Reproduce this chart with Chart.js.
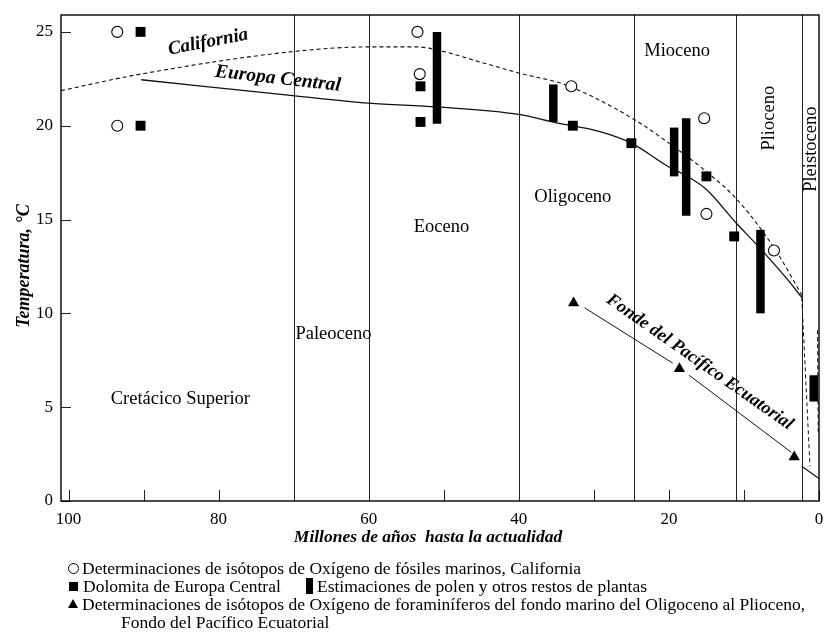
<!DOCTYPE html>
<html>
<head>
<meta charset="utf-8">
<script src="https://cdn.jsdelivr.net/npm/chart.js@4.4.0/dist/chart.umd.min.js"></script>
<style>
  body { margin: 0; background: #fff; }
  #wrap { position: relative; width: 827px; height: 637px; font-family: "Liberation Serif", serif; color: #000; }
  canvas { position: absolute; left: 0; top: 0; }
  .txt { position: absolute; font-size: 17.5px; line-height: 18px; white-space: nowrap; }
  .sym { position: absolute; background: #000; }
</style>
</head>
<body>
<div id="wrap">
  <canvas id="chart" width="827" height="637"></canvas>

  <div class="sym" style="left:68px; top:563px; width:9px; height:9px; background:#fff; border:1px solid #000; border-radius:50%;"></div>
  <div class="txt" style="left:82px; top:559px;">Determinaciones de isótopos de Oxígeno de fósiles marinos, California</div>

  <div class="sym" style="left:69px; top:582px; width:9px; height:9px;"></div>
  <div class="txt" style="left:83px; top:577px;">Dolomita de Europa Central</div>
  <div class="sym" style="left:306px; top:578px; width:7px; height:16px;"></div>
  <div class="txt" style="left:317px; top:577px;">Estimaciones de polen y otros restos de plantas</div>

  <div style="position:absolute; left:68px; top:599px; width:0; height:0; border-left:5px solid transparent; border-right:5px solid transparent; border-bottom:9px solid #000;"></div>
  <div class="txt" style="left:82px; top:595px;">Determinaciones de isótopos de Oxígeno de foraminíferos del fondo marino del Oligoceno al Plioceno,</div>
  <div class="txt" style="left:121px; top:613px;">Fondo del Pacífico Ecuatorial</div>
</div>

<script>
// isotopos California (circulos)
const californiaAge = [93.5, 93.5, 53.5, 53.2, 33.0, 15.3, 15.0, 6.0];
const californiaTemp = [25.0, 20.0, 25.0, 22.75, 22.1, 20.4, 15.3, 13.35];

// dolomita Europa Central (cuadrados)
const dolomiteAge = [90.4, 90.4, 53.1, 53.1, 32.8, 25.0, 15.0, 11.3];
const dolomiteTemp = [25.0, 20.0, 22.1, 20.2, 20.0, 19.07, 17.3, 14.1];

// polen (barras)
const pollenAge = [50.9, 35.4, 19.3, 17.7, 7.8, 0.7];
const pollenLow = [20.1, 20.2, 17.3, 15.2, 10.0, 5.3];
const pollenHigh = [25.0, 22.2, 19.9, 20.4, 14.45, 6.7];

// foraminiferos Pacifico (triangulos)
const pacificAge = [32.7, 18.6, 3.3];
const pacificTemp = [10.55, 7.05, 2.35];

// curvas
const caliCurveAge = [101, 90.4, 70.1, 60, 53.6, 50.5, 45.2, 39.9, 33.6, 24.9, 20, 15, 11, 6, 2.1];
const caliCurveTemp = [21.87, 22.75, 23.95, 24.2, 24.2, 24.0, 23.4, 22.8, 22.15, 20.4, 19.07, 17.55, 16.1, 13.5, 10.85];
const europeCurveAge = [90.3, 70.1, 60, 50.9, 40, 35, 29.3, 25, 20, 17.3, 15, 11, 8.4, 4.4, 2.3];
const europeCurveTemp = [22.45, 21.6, 21.2, 21.0, 20.6, 20.15, 19.7, 19.07, 17.8, 17.25, 16.6, 14.8, 13.7, 11.9, 10.85];
const dropAge = [2.3, 1.2];
const dropTemp = [10.85, 1.85];
const tailAge = [2.3, 0];
const tailTemp = [1.85, 1.2];
const rightDashAge = [0.2, 0.1];
const rightDashTemp = [9.1, 3.5];
const pacificLine1Age = [31.25, 19.5];
const pacificLine1Temp = [10.3, 7.35];
const pacificLine2Age = [17.3, 3.7];
const pacificLine2Temp = [6.7, 2.6];

// epocas
const epochBounds = [70, 60, 40, 24.7, 11, 2.3];
const epochNames = ['Cretácico Superior', 'Paleoceno', 'Eoceno', 'Oligoceno', 'Mioceno', 'Plioceno', 'Pleistoceno'];
const epochLabelAge = [85.1, 64.7, 50.3, 32.8, 18.9, 6.65, 1.06];
const epochLabelTemp = [5.43, 8.9, 14.6, 16.2, 24.0, 20.4, 18.75];
const epochLabelRot = [0, 0, 0, 0, 0, -90, -90];

const curveNames = ['California', 'Europa Central', 'Fonde del Pacífico Ecuatorial'];
const curveLabelAge = [81.4, 72.1, 15.9];
const curveLabelTemp = [24.45, 22.5, 7.4];
const curveLabelRot = [-11, 6.5, 35];
const curveLabelSize = [19, 19.5, 18];

const xTitle = 'Millones de años  hasta la actualidad';
const yTitle = 'Temperatura, °C';

const pts = (xs, ys) => xs.map((x, i) => ({ x: x, y: ys[i] }));
const SERIF = '"Liberation Serif", serif';

function lineSet(xs, ys, dash, width) {
  return {
    data: pts(xs, ys), showLine: true, pointRadius: 0, borderColor: '#111',
    borderWidth: width || 1.2, borderDash: dash || [], cubicInterpolationMode: 'monotone',
    order: 5
  };
}

const pollenSets = pollenAge.map((a, i) => ({
  data: [{ x: a, y: pollenLow[i] }, { x: a, y: pollenHigh[i] }],
  showLine: true, pointRadius: 0, borderColor: '#000', borderWidth: 8.5,
  borderCapStyle: 'butt', order: 3
}));

const framePlugin = {
  id: 'frame',
  beforeDatasetsDraw(chart) {
    const { ctx, chartArea: a, scales: { x, y } } = chart;
    ctx.save();
    ctx.strokeStyle = '#222';
    ctx.lineWidth = 1;
    ctx.beginPath();
    epochBounds.forEach(age => {
      const px = Math.round(x.getPixelForValue(age)) + 0.5;
      ctx.moveTo(px, a.top); ctx.lineTo(px, a.bottom);
    });
    x.ticks.forEach(t => {
      const px = Math.round(x.getPixelForValue(t.value)) + 0.5;
      ctx.moveTo(px, a.bottom); ctx.lineTo(px, a.bottom - 11);
    });
    y.ticks.forEach(t => {
      const py = Math.round(y.getPixelForValue(t.value)) + 0.5;
      ctx.moveTo(a.left, py); ctx.lineTo(a.left + 10, py);
    });
    ctx.stroke();
    ctx.lineWidth = 1.4;
    ctx.strokeStyle = '#000';
    ctx.strokeRect(a.left, a.top, a.right - a.left, a.bottom - a.top);
    ctx.restore();
  },
  afterDatasetsDraw(chart) {
    const { ctx, scales: { x, y } } = chart;
    ctx.save();
    ctx.fillStyle = '#000';
    ctx.textAlign = 'center';
    ctx.textBaseline = 'middle';
    ctx.font = '18.5px ' + SERIF;
    epochNames.forEach((name, i) => {
      ctx.save();
      ctx.translate(x.getPixelForValue(epochLabelAge[i]), y.getPixelForValue(epochLabelTemp[i]));
      ctx.rotate(epochLabelRot[i] * Math.PI / 180);
      ctx.fillText(name, 0, 0);
      ctx.restore();
    });
    curveNames.forEach((name, i) => {
      ctx.save();
      ctx.font = 'italic bold ' + curveLabelSize[i] + 'px ' + SERIF;
      ctx.translate(x.getPixelForValue(curveLabelAge[i]), y.getPixelForValue(curveLabelTemp[i]));
      ctx.rotate(curveLabelRot[i] * Math.PI / 180);
      ctx.fillText(name, 0, 0);
      ctx.restore();
    });
    ctx.restore();
  },
  afterDraw(chart) {
    const { ctx } = chart;
    ctx.save();
    ctx.fillStyle = '#000';
    ctx.textAlign = 'center';
    ctx.textBaseline = 'middle';
    ctx.font = 'italic bold 17.5px ' + SERIF;
    ctx.fillText(xTitle, 428, 537);
    ctx.font = 'italic bold 18px ' + SERIF;
    ctx.translate(24, 266);
    ctx.rotate(-Math.PI / 2);
    ctx.fillText(yTitle, 0, 0);
    ctx.restore();
  }
};

new Chart(document.getElementById('chart'), {
  type: 'scatter',
  data: {
    datasets: [
      { data: pts(californiaAge, californiaTemp), pointStyle: 'circle', pointRadius: 5.5,
        pointBackgroundColor: '#fff', pointBorderColor: '#000', pointBorderWidth: 1.1, order: 1 },
      { data: pts(dolomiteAge, dolomiteTemp), pointStyle: 'rect', pointRadius: 7,
        pointBackgroundColor: '#000', pointBorderWidth: 0, order: 1 },
      { data: pts(pacificAge, pacificTemp), pointStyle: 'triangle', pointRadius: 6.5,
        pointBackgroundColor: '#000', pointBorderWidth: 0, order: 1 },
      ...pollenSets,
      lineSet(caliCurveAge, caliCurveTemp, [4, 3], 1.1),
      lineSet(europeCurveAge, europeCurveTemp, [], 1.3),
      lineSet(dropAge, dropTemp, [4, 3], 1),
      lineSet(tailAge, tailTemp, [], 1.1),
      lineSet(rightDashAge, rightDashTemp, [4, 3], 1),
      lineSet(pacificLine1Age, pacificLine1Temp, [], 1),
      lineSet(pacificLine2Age, pacificLine2Temp, [], 1)
    ]
  },
  options: {
    responsive: false,
    animation: false,
    devicePixelRatio: 1,
    layout: { padding: { top: 15, right: 8, left: 0, bottom: 0 } },
    plugins: { legend: { display: false }, tooltip: { enabled: false } },
    scales: {
      x: {
        type: 'linear', reverse: true, min: 0, max: 101,
        grid: { display: false, drawTicks: false },
        border: { display: false },
        ticks: {
          stepSize: 10, includeBounds: false, autoSkip: false, maxRotation: 0, padding: 8,
          color: '#000', font: { family: SERIF, size: 17 },
          callback: v => (v % 20 === 0 ? String(v) : '')
        },
        afterFit: s => { s.height = 136; s.paddingLeft = 0; s.paddingRight = 0; }
      },
      y: {
        min: 0, max: 25.9,
        grid: { display: false, drawTicks: false },
        border: { display: false },
        ticks: {
          stepSize: 5, includeBounds: false, padding: 8,
          color: '#000', font: { family: SERIF, size: 17 }
        },
        afterFit: s => { s.width = 61; s.paddingTop = 0; s.paddingBottom = 0; }
      }
    }
  },
  plugins: [framePlugin]
});
</script>
</body>
</html>
